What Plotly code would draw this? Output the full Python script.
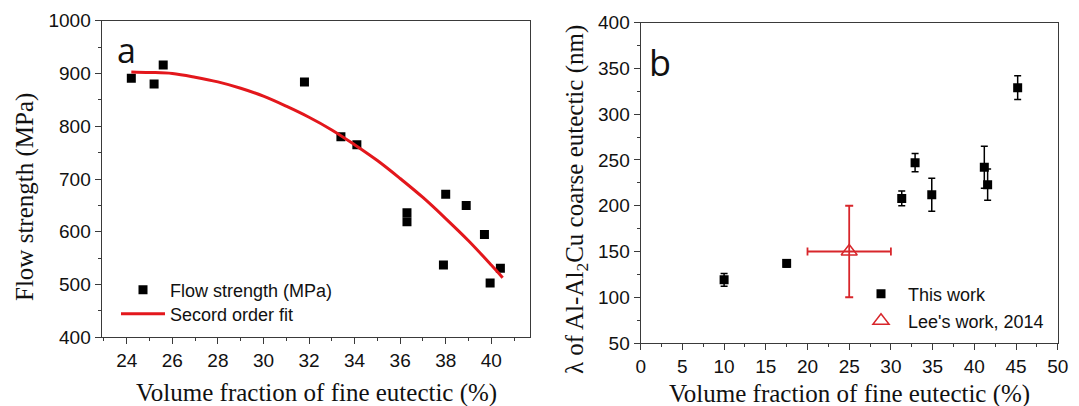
import plotly.graph_objects as go

# ---------- Panel a data ----------
a_x = [24.2, 25.2, 25.6, 31.8, 33.4, 34.1, 36.3, 36.3, 37.9, 38.0, 38.9, 39.7, 39.95, 40.4]
a_y = [891, 880, 916, 884, 780, 765, 636, 619, 537, 671, 650, 595, 503, 531]

# Second order fit curve
fit_x = [24.2, 25, 26, 27, 28, 29, 30, 31, 32, 33, 34, 35, 36, 37, 38, 39, 40, 40.5]
fit_y = [903, 902, 900, 893, 884, 872, 857, 838, 817, 793, 765, 735, 701, 665, 625, 583, 537, 513]

# ---------- Panel b data ----------
b_x = [10.0, 17.5, 31.3, 32.9, 34.9, 41.2, 41.6, 45.2]
b_y = [119, 137, 208, 247, 212, 242, 223, 329]
b_err = [7, 4, 8, 10, 18, 23, 17, 13]

lee_x = [25]
lee_y = [150]
lee_xerr = [5]
lee_yerr = [50]

W, H = 1079, 406

def px_x(p):
    return p / W

def px_y(p):
    return 1 - p / H

AXIS_COLOR = "#3a3a3a"
TICK_FONT = dict(family="Liberation Sans, Arial, sans-serif", size=19, color="#111")
TITLE_FONT = dict(family="Liberation Serif, Times New Roman, serif", size=25, color="#111")
LEG_FONT = dict(family="Liberation Sans, Arial, sans-serif", size=18, color="#111")

fig = go.Figure()

fig.add_trace(go.Scatter(
    x=a_x, y=a_y, mode="markers", name="Flow strength (MPa)",
    marker=dict(symbol="square", size=9, color="black"),
    xaxis="x", yaxis="y", legend="legend"))
fig.add_trace(go.Scatter(
    x=fit_x, y=fit_y, mode="lines", name="Secord order fit",
    line=dict(color="#e3171c", width=3, shape="spline"),
    xaxis="x", yaxis="y", legend="legend2"))

fig.add_trace(go.Scatter(
    x=b_x, y=b_y, mode="markers", name="This work",
    marker=dict(symbol="square", size=9, color="black"),
    error_y=dict(type="data", array=b_err, visible=True, color="black", thickness=1.5, width=3.5),
    xaxis="x2", yaxis="y2", legend="legend3"))
fig.add_trace(go.Scatter(
    x=lee_x, y=lee_y, mode="markers", name="Lee's work, 2014",
    marker=dict(symbol="triangle-up-open", size=14, color="#d8262b", line=dict(width=1.5)),
    error_y=dict(type="data", array=lee_yerr, visible=True, color="#d8262b", thickness=1.8, width=4),
    error_x=dict(type="data", array=lee_xerr, visible=True, color="#d8262b", thickness=1.8, width=4),
    xaxis="x2", yaxis="y2", legend="legend4"))

common_axis = dict(
    showline=True, linecolor=AXIS_COLOR, linewidth=1.3, mirror=True,
    ticks="outside", ticklen=6, tickwidth=1.3, tickcolor=AXIS_COLOR,
    showgrid=False, zeroline=False, tickfont=TICK_FONT, automargin=False,
)

def leg(xpx, ypx):
    return dict(x=px_x(xpx), y=px_y(ypx), xanchor="left", yanchor="middle",
                bgcolor="rgba(0,0,0,0)", font=LEG_FONT, itemwidth=44)

fig.update_layout(
    width=W, height=H,
    margin=dict(l=0, r=0, t=0, b=0),
    paper_bgcolor="white", plot_bgcolor="white",
    xaxis=dict(domain=[px_x(101.7), px_x(530)], anchor="y", range=[22.9, 41.7],
               tick0=24, dtick=2,
               minor=dict(dtick=1, tick0=23, ticks="outside", ticklen=3, tickcolor=AXIS_COLOR, tickwidth=1.2),
               **common_axis),
    yaxis=dict(domain=[px_y(337.3), px_y(20.7)], anchor="x", range=[400, 1000],
               dtick=100,
               minor=dict(dtick=50, ticks="outside", ticklen=3, tickcolor=AXIS_COLOR, tickwidth=1.2),
               **common_axis),
    xaxis2=dict(domain=[px_x(640.7), px_x(1057.7)], anchor="y2", range=[0, 50],
                dtick=5,
                minor=dict(dtick=2.5, ticks="outside", ticklen=3, tickcolor=AXIS_COLOR, tickwidth=1.2),
                **common_axis),
    yaxis2=dict(domain=[px_y(343), px_y(22.7)], anchor="x2", range=[50, 400],
                dtick=50,
                minor=dict(dtick=25, ticks="outside", ticklen=3, tickcolor=AXIS_COLOR, tickwidth=1.2),
                **common_axis),
    legend=leg(116, 290),
    legend2=leg(116, 314),
    legend3=leg(854, 294),
    legend4=leg(854, 321),
    showlegend=True,
)

annotations = [
    dict(text="Flow strength (MPa)", x=px_x(25), y=px_y(197), xref="paper", yref="paper",
         textangle=-90, showarrow=False, font=TITLE_FONT, xanchor="center", yanchor="middle"),
    dict(text="Volume fraction of fine eutectic (%)", x=px_x(316), y=px_y(393), xref="paper", yref="paper",
         showarrow=False, font=TITLE_FONT, xanchor="center", yanchor="middle"),
    dict(text="λ of Al-Al<sub>2</sub>Cu coarse eutectic (nm)", x=px_x(576), y=px_y(200), xref="paper", yref="paper",
         textangle=-90, showarrow=False, font=TITLE_FONT, xanchor="center", yanchor="middle"),
    dict(text="Volume fraction of fine eutectic (%)", x=px_x(849), y=px_y(394), xref="paper", yref="paper",
         showarrow=False, font=TITLE_FONT, xanchor="center", yanchor="middle"),
    dict(text="a", x=px_x(126), y=px_y(50), xref="paper", yref="paper",
         showarrow=False, font=dict(family="Open Sans, Liberation Sans, sans-serif", size=34, color="#111"),
         xanchor="center", yanchor="middle"),
    dict(text="b", x=px_x(660), y=px_y(62), xref="paper", yref="paper",
         showarrow=False, font=dict(family="Open Sans, Liberation Sans, sans-serif", size=36, color="#111"),
         xanchor="center", yanchor="middle"),
]
fig.update_layout(annotations=annotations)

fig.write_html("out.html", config={"displayModeBar": False},
               post_script="document.body.style.margin='0';document.body.style.overflow='hidden';")
